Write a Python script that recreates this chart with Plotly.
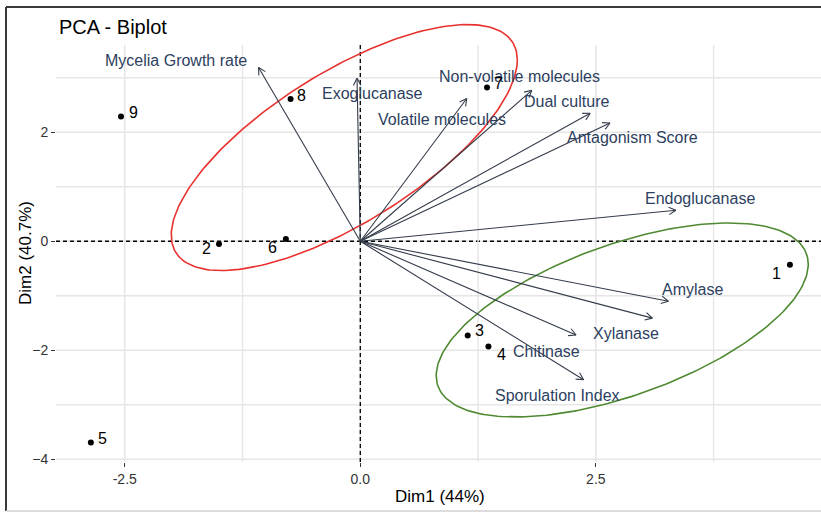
import numpy as np
import plotly.graph_objects as go

# ---------------- data ----------------
ind_labels = ["1", "2", "3", "4", "5", "6", "7", "8", "9"]
ind_x = [4.56, -1.50, 1.14, 1.36, -2.86, -0.79, 1.345, -0.74, -2.54]
ind_y = [-0.43, -0.05, -1.73, -1.93, -3.69, 0.04, 2.82, 2.61, 2.29]

var_names = ["Mycelia Growth rate", "Exoglucanase", "Volatile molecules",
             "Non-volatile molecules", "Dual culture", "Antagonism Score",
             "Endoglucanase", "Amylase", "Xylanase", "Chitinase", "Sporulation Index"]
var_x = [-1.08, -0.035, 1.13, 1.82, 2.44, 2.65, 3.35, 3.27, 3.10, 2.29, 2.37]
var_y = [3.19, 2.99, 2.62, 2.77, 2.35, 2.17, 0.57, -1.10, -1.41, -1.72, -2.54]

# confidence ellipses (centre, covariance in Dim units)
ell_red_center = [-0.17, 1.72]
ell_red_cov = [[3.373, 2.951], [2.951, 5.094]]
ell_green_center = [2.78, -1.444]
ell_green_cov = [[3.899, 2.018], [2.018, 3.168]]

x_ticks = [-2.5, 0.0, 2.5]
x_ticktext = ["-2.5", "0.0", "2.5"]
x_minor = [-1.25, 1.25, 3.75]
y_ticks = [-4, -2, 0, 2]
y_minor = [-3, -1, 1, 3]

# ---------------- layout constants ----------------
W, H = 821, 512
ML, MR, MT, MB = 56, 0, 20, 50
XR = [-3.23, 4.89]
YR = [-4.05, 4.06]          # drawing range (ellipse may exceed the panel)
PANEL_YMAX = 3.6            # top of the visible grid panel
pw, ph = W - ML - MR, H - MT - MB
sx = pw / (XR[1] - XR[0])
sy = ph / (YR[1] - YR[0])

# label offsets in pixels (xshift, yshift)
var_label_shift = [(-83, 7), (15, -15), (-25, -21), (-12, 14), (-24, 12), (23, -14),
                   (24, 12), (24, 12), (-26, -15), (-30, -16), (-26, -16)]
ind_label_shift = [(-13, -9), (-12, -4), (12, 5), (13, -8), (12, 4), (-13, -8),
                   (11, 4), (11, 4), (12, 4)]

ARROW_COL = "#343c4a"
VAR_COL = "#2d3f60"
FONT = "Liberation Sans, Arial, sans-serif"
GRID = "#e6e6e6"

fig = go.Figure()

# ellipses
def ellipse(center, cov, col):
    L = np.linalg.cholesky(np.array(cov))
    t = np.linspace(0, 2 * np.pi, 241)
    pts = L @ np.vstack([np.cos(t), np.sin(t)])
    fig.add_trace(go.Scatter(x=center[0] + pts[0], y=center[1] + pts[1], mode="lines",
                             line=dict(color=col, width=1.6), hoverinfo="skip"))

ellipse(ell_red_center, ell_red_cov, "#e8322f")
ellipse(ell_green_center, ell_green_cov, "#4f8a32")

# arrows (shafts + open chevron heads)
ax, ay = [], []
head_len, head_ang = 8.0, np.deg2rad(28)
for vx, vy in zip(var_x, var_y):
    ax += [0, vx, None]
    ay += [0, vy, None]
    px, py = vx * sx, vy * sy
    n = np.hypot(px, py)
    ux, uy = px / n, py / n
    for s in (1, -1):
        c, si = np.cos(s * head_ang), np.sin(s * head_ang)
        rx, ry = ux * c - uy * si, ux * si + uy * c
        ax += [vx, vx - head_len * rx / sx, None]
        ay += [vy, vy - head_len * ry / sy, None]
fig.add_trace(go.Scatter(x=ax, y=ay, mode="lines", line=dict(color=ARROW_COL, width=1.1),
                         hoverinfo="skip"))

# individuals
fig.add_trace(go.Scatter(x=ind_x, y=ind_y, mode="markers",
                         marker=dict(color="black", size=6), hoverinfo="skip"))

ann = []
for name, vx, vy, (dx, dy) in zip(var_names, var_x, var_y, var_label_shift):
    ann.append(dict(x=vx, y=vy, xref="x", yref="y", text=name, showarrow=False,
                    xshift=dx, yshift=dy, font=dict(size=16, color=VAR_COL, family=FONT)))
for lab, px_, py_, (dx, dy) in zip(ind_labels, ind_x, ind_y, ind_label_shift):
    ann.append(dict(x=px_, y=py_, xref="x", yref="y", text=lab, showarrow=False,
                    xshift=dx, yshift=dy, font=dict(size=16, color="black", family=FONT)))

def px2paper_x(p):
    return (p - ML) / pw

def px2paper_y(p):
    return (H - MB - p) / ph

# titles
ann.append(dict(x=px2paper_x(57), y=px2paper_y(27), xref="paper", yref="paper",
                text="PCA - Biplot", showarrow=False, xanchor="left", yanchor="middle",
                font=dict(size=20, color="black", family=FONT)))
ann.append(dict(x=px2paper_x(440), y=px2paper_y(496), xref="paper", yref="paper",
                text="Dim1 (44%)", showarrow=False, xanchor="center", yanchor="middle",
                font=dict(size=17, color="black", family=FONT)))
ann.append(dict(x=px2paper_x(25), y=px2paper_y(253), xref="paper", yref="paper",
                textangle=-90, text="Dim2 (40.7%)", showarrow=False,
                xanchor="center", yanchor="middle",
                font=dict(size=17, color="black", family=FONT)))

shapes = []
# grid lines limited to the panel
for gx, gw in [(v, 1.6) for v in x_ticks] + [(v, 1.4) for v in x_minor]:
    shapes.append(dict(type="line", xref="x", yref="y", x0=gx, x1=gx, y0=YR[0],
                       y1=PANEL_YMAX, line=dict(color=GRID, width=gw), layer="below"))
for gy, gw in [(v, 1.6) for v in y_ticks] + [(v, 1.4) for v in y_minor]:
    shapes.append(dict(type="line", xref="paper", yref="y", x0=0, x1=1, y0=gy, y1=gy,
                       line=dict(color=GRID, width=gw), layer="below"))
# dashed reference lines
shapes.append(dict(type="line", xref="x", yref="y", x0=0, x1=0, y0=YR[0], y1=PANEL_YMAX,
                   line=dict(color="black", width=1.3, dash="4px,3px"), layer="below"))
shapes.append(dict(type="line", xref="paper", yref="y", x0=0, x1=1, y0=0, y1=0,
                   line=dict(color="black", width=1.3, dash="4px,3px"), layer="below"))
# outer frame
shapes += [
    dict(type="line", xref="paper", yref="paper", x0=px2paper_x(6), x1=px2paper_x(821),
         y0=px2paper_y(7), y1=px2paper_y(7), line=dict(color="#3a3a3a", width=2)),
    dict(type="line", xref="paper", yref="paper", x0=px2paper_x(6), x1=px2paper_x(6),
         y0=px2paper_y(7), y1=px2paper_y(511), line=dict(color="#3a3a3a", width=2)),
    dict(type="line", xref="paper", yref="paper", x0=px2paper_x(6), x1=px2paper_x(821),
         y0=px2paper_y(511), y1=px2paper_y(511), line=dict(color="#d0d0d0", width=1.5)),
]

fig.update_layout(
    width=W, height=H, margin=dict(l=ML, r=MR, t=MT, b=MB),
    paper_bgcolor="white", plot_bgcolor="rgba(0,0,0,0)", showlegend=False,
    annotations=ann, shapes=shapes,
    xaxis=dict(range=XR, tickvals=x_ticks, ticktext=x_ticktext, showgrid=False,
               zeroline=False, ticks="outside", ticklen=4,
               tickcolor="#333", tickfont=dict(size=14, color="#333", family=FONT),
               showline=False, fixedrange=True),
    yaxis=dict(range=YR, tickvals=y_ticks, showgrid=False,
               zeroline=False, ticks="outside", ticklen=4, tickcolor="#333",
               tickfont=dict(size=14, color="#333", family=FONT),
               showline=False, fixedrange=True),
)

fig.write_html("out.html", config={"displayModeBar": False},
               post_script="document.body.style.margin='0';document.body.style.overflow='hidden';")
